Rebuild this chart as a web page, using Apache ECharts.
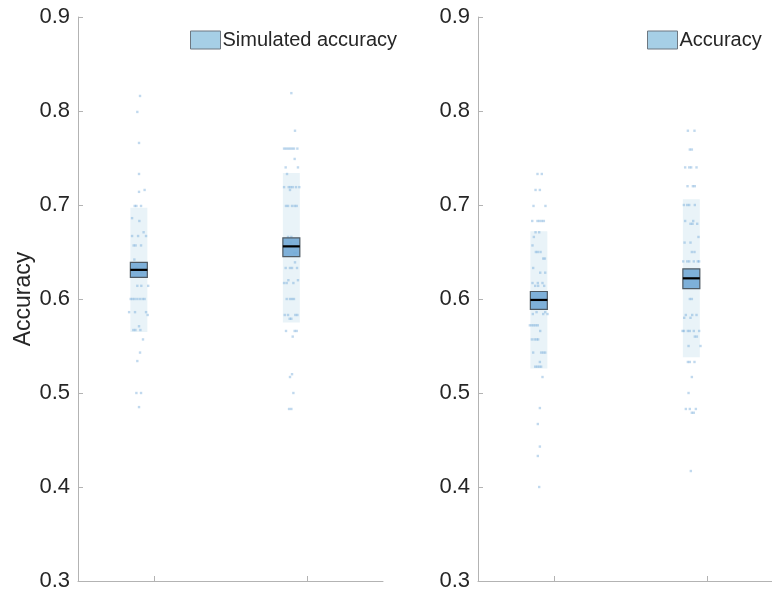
<!DOCTYPE html>
<html>
<head>
<meta charset="utf-8">
<script src="https://cdn.jsdelivr.net/npm/echarts@6/dist/echarts.min.js"></script>
<style>html,body{margin:0;padding:0;background:#fff;}#chart{width:772px;height:594px;}</style>
</head>
<body>
<div id="chart"></div>
<script>
// ---- data ----
const groupX = [1, 2];
const yMin = 0.3, yMax = 0.9, yStep = 0.1;

// Left panel: Simulated accuracy
const simBandLo = [0.565, 0.575];
const simBandHi = [0.697, 0.734];
const simSemLo  = [0.623, 0.645];
const simSemHi  = [0.639, 0.665];
const simMean   = [0.631, 0.656];

// Right panel: Accuracy
const accBandLo = [0.526, 0.538];
const accBandHi = [0.672, 0.706];
const accSemLo  = [0.589, 0.611];
const accSemHi  = [0.608, 0.632];
const accMean   = [0.599, 0.622];

// individual points: [jitter (-1..1 of box half width), value]
const simPts1 = [[0.14,0.816],[-0.18,0.799],[0.02,0.766],[0.02,0.733],[0.02,0.714],[0.68,0.716],[-0.49,0.699],[-0.29,0.699],[0.26,0.699],[-0.8,0.686],[0.06,0.683],[0.56,0.671],[-0.8,0.667],[-0.09,0.667],[0.85,0.667],[-0.61,0.657],[-0.38,0.657],[0.26,0.657],[-0.53,0.642],[-0.3,0.633],[0.3,0.628],[-0.18,0.614],[0.29,0.614],[1.1,0.614],[-0.96,0.6],[-0.73,0.6],[-0.49,0.6],[-0.18,0.6],[0.14,0.6],[0.45,0.6],[0.68,0.6],[-1.15,0.586],[-0.45,0.586],[0.85,0.586],[1.04,0.583],[0.02,0.571],[-0.65,0.567],[-0.41,0.567],[0.18,0.567],[0.49,0.557],[0.14,0.543],[-0.18,0.534],[-0.29,0.5],[0.26,0.5],[0.02,0.485]];
const simPts2 = [[0,0.819],[0.43,0.779],[-0.86,0.76],[-0.63,0.76],[-0.39,0.76],[-0.16,0.76],[0.08,0.76],[0.31,0.76],[0.71,0.76],[0.39,0.749],[-0.67,0.74],[0.78,0.74],[-0.51,0.733],[-0.86,0.719],[-0.31,0.719],[-0.08,0.719],[0.16,0.719],[0.55,0.719],[0.94,0.719],[-0.16,0.716],[-0.63,0.699],[-0.39,0.699],[0.08,0.699],[0.39,0.699],[0.63,0.699],[-0.39,0.666],[0,0.666],[-0.08,0.66],[0.31,0.649],[0.55,0.649],[0.43,0.639],[-0.67,0.633],[-0.16,0.633],[0.08,0.633],[0.67,0.633],[-0.35,0.62],[0.78,0.62],[-0.86,0.617],[-0.55,0.617],[0.24,0.617],[-0.55,0.6],[-0.16,0.6],[0.08,0.6],[0.31,0.6],[-0.78,0.583],[-0.39,0.583],[0.47,0.583],[0.71,0.583],[-0.2,0.579],[0,0.579],[-0.63,0.566],[0.39,0.566],[0.63,0.566],[0.16,0.56],[0.08,0.52],[-0.16,0.517],[0.24,0.5],[-0.27,0.483],[0,0.483]];
const accPts1 = [[-0.16,0.733],[0.35,0.733],[-0.39,0.716],[0.12,0.716],[-0.63,0.699],[0.78,0.699],[-0.78,0.683],[-0.16,0.683],[0.08,0.683],[0.35,0.683],[0.59,0.683],[-0.39,0.671],[0.04,0.671],[-0.59,0.666],[-0.75,0.657],[-0.35,0.65],[-0.12,0.65],[0.2,0.65],[0.51,0.643],[0.71,0.643],[-0.67,0.633],[0.16,0.628],[0.75,0.628],[-0.75,0.617],[-0.12,0.617],[0.43,0.617],[-0.43,0.614],[-0.08,0.614],[0.63,0.614],[-0.71,0.584],[-0.27,0.586],[0.51,0.584],[0.75,0.586],[1.02,0.584],[-1.06,0.572],[-0.82,0.572],[-0.59,0.572],[-0.35,0.572],[-0.12,0.572],[0.16,0.566],[-0.82,0.557],[-0.51,0.557],[-0.27,0.557],[-0.08,0.557],[-0.67,0.543],[0.27,0.543],[0.51,0.543],[0.75,0.543],[0.12,0.533],[-0.43,0.528],[-0.2,0.528],[0.04,0.528],[0.27,0.528],[0.43,0.517],[0.12,0.484],[-0.12,0.467],[0.12,0.443],[-0.12,0.433],[0.04,0.4]];
const accPts2 = [[-0.41,0.779],[0.37,0.779],[-0.18,0.759],[0.06,0.759],[-0.73,0.74],[-0.25,0.74],[-0.02,0.74],[0.61,0.74],[-0.45,0.72],[0.18,0.72],[0.41,0.72],[-0.88,0.7],[-0.49,0.7],[-0.25,0.7],[0.41,0.7],[-0.73,0.683],[0.22,0.683],[-0.1,0.68],[0.14,0.68],[0.69,0.68],[0.84,0.666],[-0.8,0.66],[-0.1,0.66],[0.06,0.65],[0.37,0.65],[-0.96,0.64],[-0.49,0.64],[-0.25,0.64],[0.29,0.64],[0.76,0.64],[0.92,0.64],[-0.18,0.6],[0.06,0.6],[-0.65,0.583],[0.1,0.583],[0.61,0.583],[-0.84,0.58],[-0.1,0.58],[-1.04,0.566],[-0.88,0.566],[-0.41,0.566],[-0.18,0.566],[0.29,0.566],[0.92,0.566],[0.41,0.56],[0.65,0.56],[-0.33,0.55],[1.08,0.55],[-0.41,0.533],[-0.18,0.533],[0.37,0.533],[0.06,0.517],[-0.33,0.5],[-0.65,0.483],[-0.18,0.483],[0.53,0.483],[0.06,0.479],[0.29,0.479],[-0.06,0.417]];

const simName = 'Simulated accuracy';
const accName = 'Accuracy';

// ---- style ----
const boxOffset = -0.101;   // boxes drawn slightly left of tick
const boxHalfW = 0.0556;    // axis units
const FONT = 'Liberation Sans, Arial, Helvetica, sans-serif';
const TXT = '#262626';
const AXC = '#b3b3b3';
const bandColor = 'rgba(166,206,227,0.25)';
const semColor = 'rgba(116,170,214,0.92)';
const semBorder = '#4f5a63';
const dotColor = 'rgba(100,160,212,0.5)';

function bandData(lo, hi) { return groupX.map((g, i) => [g + boxOffset, lo[i], hi[i]]); }
function semData(lo, hi, m) { return groupX.map((g, i) => [g + boxOffset, lo[i], hi[i], m[i]]); }
function ptsData(ptsList) {
  const out = [];
  ptsList.forEach((pts, i) => pts.forEach(p => out.push([groupX[i] + boxOffset + p[0] * boxHalfW, p[1]])));
  return out;
}

function renderBand(params, api) {
  const x = api.value(0);
  const a = api.coord([x - boxHalfW, api.value(2)]);
  const b = api.coord([x + boxHalfW, api.value(1)]);
  return { type: 'rect', shape: { x: a[0], y: a[1], width: b[0] - a[0], height: b[1] - a[1] }, style: { fill: bandColor } };
}
function renderSem(params, api) {
  const x = api.value(0);
  const a = api.coord([x - boxHalfW, api.value(2)]);
  const b = api.coord([x + boxHalfW, api.value(1)]);
  const m = api.coord([x, api.value(3)]);
  return { type: 'group', children: [
    { type: 'rect', shape: { x: a[0], y: a[1], width: b[0] - a[0], height: b[1] - a[1] }, style: { fill: semColor, stroke: semBorder, lineWidth: 1.2 } },
    { type: 'line', shape: { x1: a[0], y1: m[1], x2: b[0], y2: m[1] }, style: { stroke: '#000', lineWidth: 2.2 } }
  ]};
}

function xAxisDef(gi) {
  return {
    type: 'value', gridIndex: gi, min: 0.5, max: 2.5,
    axisLine: { show: true, lineStyle: { color: AXC, width: 1 } },
    axisTick: { show: true, inside: true, length: 5, customValues: groupX, lineStyle: { color: AXC } },
    axisLabel: { show: false }, splitLine: { show: false }
  };
}
function yAxisDef(gi, name) {
  return {
    type: 'value', gridIndex: gi, min: yMin, max: yMax, interval: yStep,
    name: name, nameLocation: 'middle', nameGap: 41, nameRotate: 90,
    nameTextStyle: { fontFamily: FONT, fontSize: 23, color: TXT },
    axisLine: { show: true, lineStyle: { color: AXC, width: 1 } },
    axisTick: { show: true, inside: true, length: 5, lineStyle: { color: AXC } },
    axisLabel: { margin: 8, fontFamily: FONT, fontSize: 22, color: TXT, formatter: v => v.toFixed(1) },
    splitLine: { show: false }
  };
}

function panelSeries(gi, name, bLo, bHi, sLo, sHi, m, pts) {
  return [
    { type: 'custom', name: name + ' band', xAxisIndex: gi, yAxisIndex: gi, renderItem: renderBand, data: bandData(bLo, bHi), encode: { x: 0, y: [1, 2] }, z: 1, silent: true },
    { type: 'scatter', name: name + ' pts', xAxisIndex: gi, yAxisIndex: gi, data: ptsData(pts), symbol: 'rect', symbolSize: 2.4, itemStyle: { color: dotColor }, z: 2, silent: true },
    { type: 'custom', name: name, xAxisIndex: gi, yAxisIndex: gi, renderItem: renderSem, data: semData(sLo, sHi, m), encode: { x: 0, y: [1, 2] }, z: 3, silent: true,
      itemStyle: { color: '#a6cfe6', borderColor: '#6d7780', borderWidth: 1 } }
  ];
}

function legendDef(left, name) {
  return {
    left: left, top: 30, padding: 0, itemWidth: 30, itemHeight: 18, itemGap: 0,
    data: [{ name: name, icon: 'rect' }],
    itemStyle: { color: '#a6cfe6', borderColor: '#6d7780', borderWidth: 1 },
    textStyle: { fontFamily: FONT, fontSize: 20, color: TXT, padding: [0, 0, 0, -3] },
    selectedMode: false
  };
}

const chart = echarts.init(document.getElementById('chart'), null, { renderer: 'canvas' });
chart.setOption({
  animation: false,
  backgroundColor: '#ffffff',
  grid: [
    { left: 78, top: 17, width: 305, height: 564, outerBoundsMode: 'none', containLabel: false },
    { left: 478, top: 17, width: 305, height: 564, outerBoundsMode: 'none', containLabel: false }
  ],
  xAxis: [xAxisDef(0), xAxisDef(1)],
  yAxis: [yAxisDef(0, 'Accuracy'), yAxisDef(1, '')],
  legend: [legendDef(190, simName), legendDef(647, accName)],
  series: [
    ...panelSeries(0, simName, simBandLo, simBandHi, simSemLo, simSemHi, simMean, [simPts1, simPts2]),
    ...panelSeries(1, accName, accBandLo, accBandHi, accSemLo, accSemHi, accMean, [accPts1, accPts2])
  ]
});
</script>
</body>
</html>
